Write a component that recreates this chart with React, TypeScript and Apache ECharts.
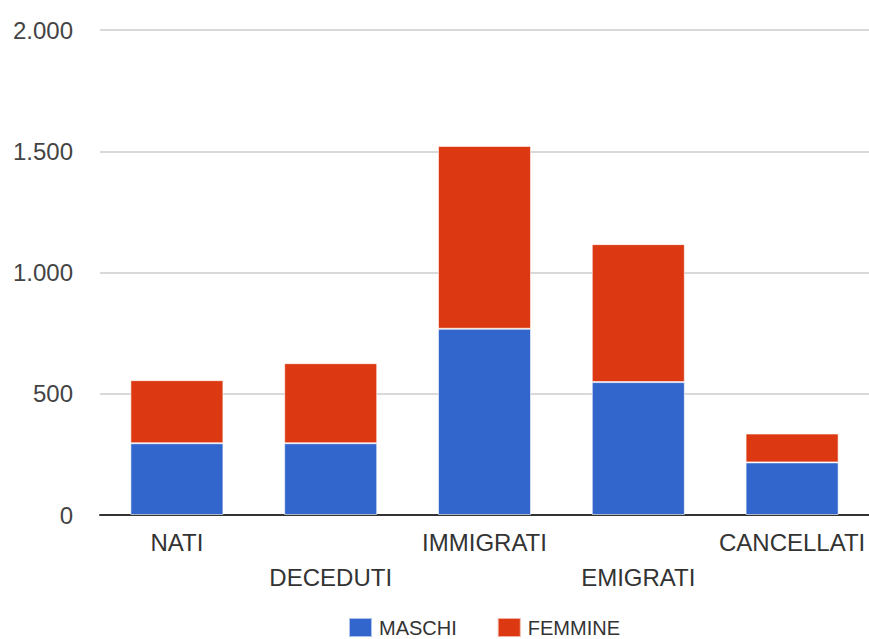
import React, { useEffect, useRef } from "react";
import * as echarts from "echarts";

// Movimenti anagrafici per sesso
const categories = ["NATI", "DECEDUTI", "IMMIGRATI", "EMIGRATI", "CANCELLATI"];
const maschi = [296, 296, 768, 548, 217];
const femmine = [260, 330, 754, 569, 119];
const seriesNames = ["MASCHI", "FEMMINE"];
const yTicks = [0, 500, 1000, 1500, 2000];
const yTickLabels = ["0", "500", "1.000", "1.500", "2.000"];

const FONT = "'Liberation Sans', Arial, sans-serif";

export default function App() {
  const ref = useRef<HTMLDivElement>(null);

  useEffect(() => {
    if (!ref.current) return;
    const chart = echarts.init(ref.current, undefined, { renderer: "svg" });
    chart.setOption({
      animation: false,
      textStyle: { fontFamily: FONT },
      grid: { left: 100, right: 0, top: 30, bottom: 124, containLabel: false },
      legend: {
        left: 348,
        top: 617,
        padding: 0,
        itemWidth: 23,
        itemHeight: 19,
        itemGap: 40,
        icon: "rect",
        textStyle: { fontFamily: FONT, fontSize: 20, lineHeight: 19, color: "#333", padding: [0, 0, 0, 2] },
        data: seriesNames,
      },
      xAxis: {
        type: "category",
        data: categories,
        axisTick: { show: false },
        axisLine: { show: true, lineStyle: { color: "#333", width: 2 } },
        axisLabel: {
          interval: 0,
          margin: 10,
          fontFamily: FONT,
          fontSize: 24,
          lineHeight: 35,
          color: "#333",
          formatter: (v: string, i: number) => (i % 2 === 1 ? "\n" + v : v),
        },
      },
      yAxis: {
        type: "value",
        min: yTicks[0],
        max: yTicks[yTicks.length - 1],
        interval: yTicks[1] - yTicks[0],
        axisLine: { show: false },
        axisTick: { show: false },
        splitLine: { lineStyle: { color: "#cccccc", width: 1.5 } },
        axisLabel: {
          margin: 27,
          fontFamily: FONT,
          fontSize: 24,
          color: "#444",
          formatter: (v: number) => yTickLabels[yTicks.indexOf(v)] ?? String(v),
        },
      },
      series: [
        {
          name: seriesNames[0],
          type: "bar",
          stack: "tot",
          data: maschi,
          barCategoryGap: "39.5%",
          itemStyle: { color: "#3366cc", borderColor: "rgba(255,255,255,0.6)", borderWidth: 1 },
        },
        {
          name: seriesNames[1],
          type: "bar",
          stack: "tot",
          data: femmine,
          barCategoryGap: "39.5%",
          itemStyle: { color: "#dc3912", borderColor: "rgba(255,255,255,0.6)", borderWidth: 1 },
        },
      ],
    });
    return () => chart.dispose();
  }, []);

  return (
    <div
      ref={ref}
      style={{ position: "fixed", left: 0, top: 0, width: 869, height: 639, background: "#fff" }}
    />
  );
}
